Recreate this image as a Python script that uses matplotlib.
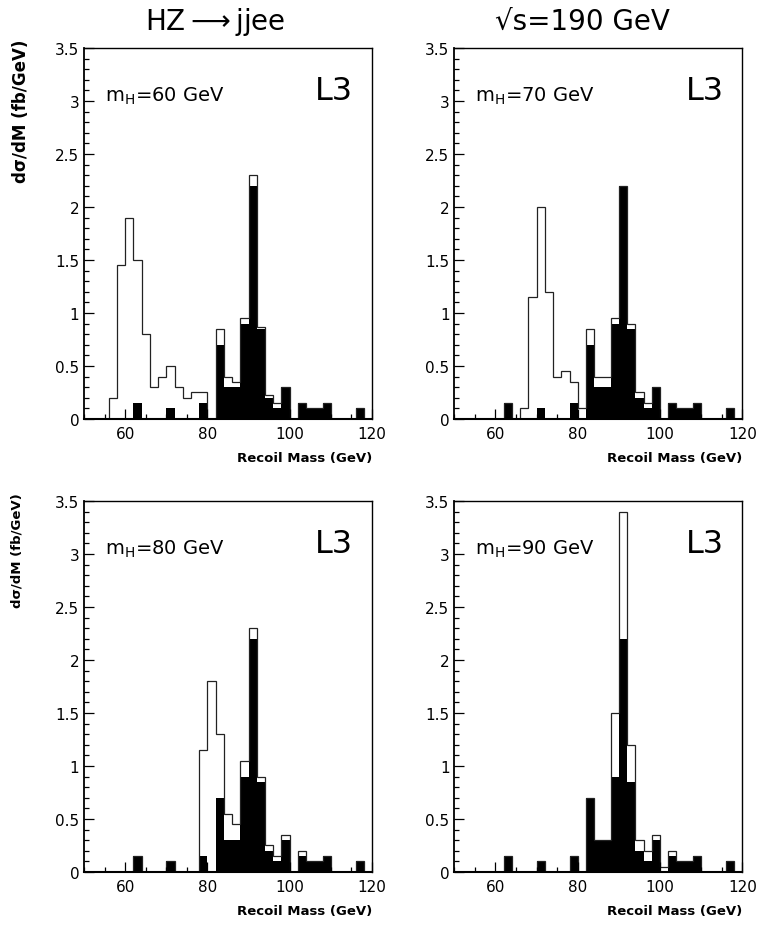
import numpy as np
import matplotlib
matplotlib.use("Agg")
import matplotlib.pyplot as plt
from matplotlib.ticker import MultipleLocator

# 2 GeV bins from 50 to 120 GeV
edges = np.arange(50, 122, 2)

# background (filled black), the same in all four panels
bkg = [0, 0, 0, 0, 0, 0, 0.15, 0, 0, 0, 0.1, 0, 0, 0, 0.15, 0,
       0.7, 0.3, 0.3, 0.9, 2.2, 0.85, 0.2, 0.1, 0.3, 0, 0.15, 0.1, 0.1, 0.15,
       0, 0, 0, 0.1, 0]

# signal + background (open histogram)
tot_60 = [0, 0, 0, 0.2, 1.45, 1.9, 1.5, 0.8, 0.3, 0.4, 0.5, 0.3, 0.2, 0.25, 0.25, 0,
          0.85, 0.4, 0.35, 0.95, 2.3, 0.87, 0.23, 0.15, 0.3, 0, 0.15, 0.1, 0.1, 0.15,
          0, 0, 0, 0.1, 0]
tot_70 = [0, 0, 0, 0, 0, 0, 0.15, 0, 0.1, 1.15, 2.0, 1.2, 0.4, 0.45, 0.35, 0.1,
          0.85, 0.4, 0.4, 0.95, 2.2, 0.9, 0.25, 0.15, 0.3, 0, 0.15, 0.1, 0.1, 0.15,
          0, 0, 0, 0.1, 0]
tot_80 = [0, 0, 0, 0, 0, 0, 0.15, 0, 0, 0, 0.1, 0, 0, 0, 1.15, 1.8,
          1.3, 0.55, 0.45, 1.05, 2.3, 0.9, 0.25, 0.15, 0.35, 0, 0.2, 0.1, 0.1, 0.15,
          0, 0, 0, 0.1, 0]
tot_90 = [0, 0, 0, 0, 0, 0, 0.15, 0, 0, 0, 0.1, 0, 0, 0, 0.15, 0,
          0.7, 0.3, 0.3, 1.5, 3.4, 1.2, 0.3, 0.2, 0.35, 0.05, 0.2, 0.1, 0.1, 0.15,
          0, 0, 0, 0.1, 0]

totals = [tot_60, tot_70, tot_80, tot_90]
mh_labels = ["60", "70", "80", "90"]

fig = plt.figure(figsize=(7.59, 9.29), dpi=100)

# axes positions (left, bottom) in figure fraction
pos = [(0.1107, 0.5479), (0.5986, 0.5479), (0.1107, 0.0603), (0.5986, 0.0603)]
w, h = 0.3794, 0.3994

for i in range(4):
    ax = fig.add_axes([pos[i][0], pos[i][1], w, h])
    ax.stairs(bkg, edges, fill=True, color="black", lw=0)
    ax.stairs(totals[i], edges, color="#222222", lw=0.9)
    ax.set_xlim(50, 120)
    ax.set_ylim(0, 3.5)

    ax.xaxis.set_major_locator(MultipleLocator(20))
    ax.xaxis.set_minor_locator(MultipleLocator(5))
    ax.yaxis.set_minor_locator(MultipleLocator(0.1))
    ax.set_yticks([0, 0.5, 1, 1.5, 2, 2.5, 3, 3.5])
    ax.set_yticklabels(["0", "0.5", "1", "1.5", "2", "2.5", "3", "3.5"])
    ax.tick_params(which="both", direction="in", top=False, right=False,
                   labelsize=11, width=0.9)
    ax.tick_params(which="major", length=7)
    ax.tick_params(which="minor", length=3.5)
    ax.tick_params(axis="x", pad=5)
    for s in ax.spines.values():
        s.set_linewidth(1.0)
    ax.spines["bottom"].set_linewidth(1.5)
    ax.spines["left"].set_linewidth(1.3)

    ax.text(55, 3.05, "m$_{\\rm H}$=" + mh_labels[i] + " GeV", fontsize=14,
            va="center", ha="left")
    ax.text(0.935, 3.1, "L3", fontsize=23, va="center", ha="right",
            transform=ax.get_yaxis_transform())
    ax.text(1.0, -0.105, "Recoil Mass (GeV)", fontsize=9.5, fontweight="bold",
            ha="right", va="center", transform=ax.transAxes)

# y axis labels for the left column
fig.text(21 / 759, 1 - 40 / 929, "d\u03c3/dM (fb/GeV)", rotation=90, fontsize=12,
         fontweight="bold", ha="center", va="top")
fig.text(17 / 759, 1 - 493 / 929, "d\u03c3/dM (fb/GeV)", rotation=90, fontsize=9.5,
         fontweight="bold", ha="center", va="top")

# titles
fig.text(0.283, 0.976, "HZ$\\longrightarrow$jjee", fontsize=20, ha="center", va="center")
fig.text(0.768, 0.976, "\u221as=190 GeV", fontsize=20, ha="center", va="center")

fig.savefig("out.png", dpi=100)
